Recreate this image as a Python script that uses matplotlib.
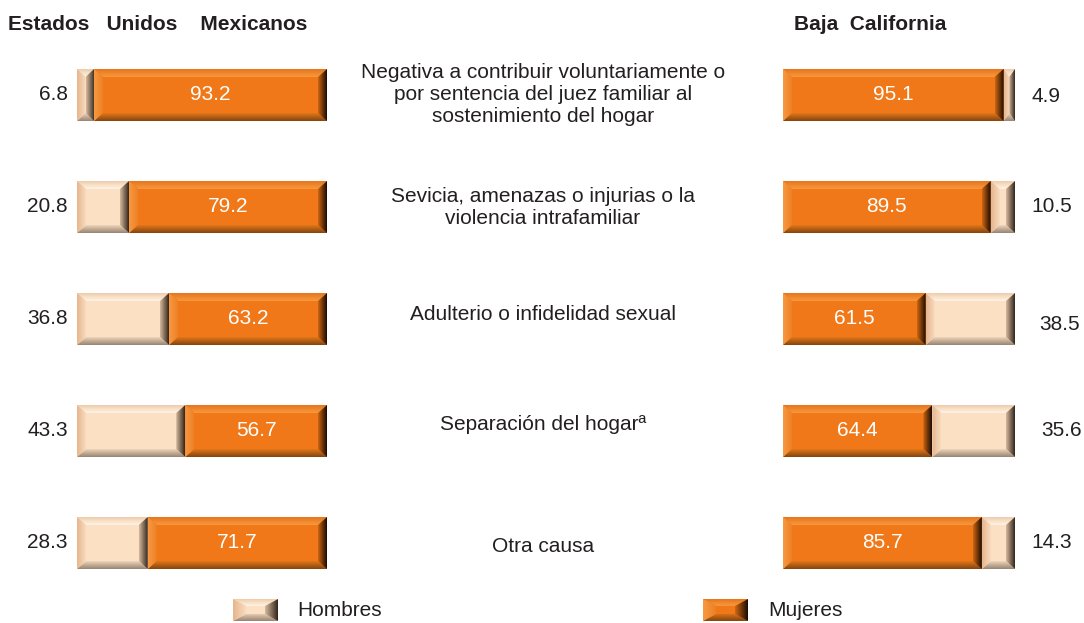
import numpy as np
import matplotlib
matplotlib.use("Agg")
import matplotlib.pyplot as plt
from matplotlib.patches import Polygon
from matplotlib.transforms import offset_copy
from matplotlib.colors import to_rgb

plt.rcParams['font.family'] = ['Liberation Sans', 'DejaVu Sans']

# ---------------- data ----------------
categories = [
    "Negativa a contribuir voluntariamente o\npor sentencia del juez familiar al\nsostenimiento del hogar",
    "Sevicia, amenazas o injurias o la\nviolencia intrafamiliar",
    "Adulterio o infidelidad sexual",
    "Separación del hogarª",
    "Otra causa",
]
nacional_hombres = [6.8, 20.8, 36.8, 43.3, 28.3]
nacional_mujeres = [93.2, 79.2, 63.2, 56.7, 71.7]
bc_mujeres = [95.1, 89.5, 61.5, 64.4, 85.7]
bc_hombres = [4.9, 10.5, 38.5, 35.6, 14.3]
title_left = "Estados   Unidos    Mexicanos"
title_right = "Baja  California"
legend_labels = ["Hombres", "Mujeres"]

# ---------------- layout nudges (pixels) ----------------
cat_dy_px = [0, 1, -5, -6, 3]
right_lab_dx_px = [0, 0, 8, 10, 0]
right_lab_dy_px = [-2, 0, -6, 0, 0]

# ---------------- style ----------------
W, H = 1084, 623
TXT = "#231f20"
PAL_M = dict(face="#F07818", top_o="#E6761C", top_i="#F7983E",
             bot_o="#844510", bot_i="#E27618",
             lef_o="#F69A44", lef_i="#EE8024",
             rig_o="#1C0C04", rig_i="#CC6612")
PAL_H = dict(face="#FCE0C4", top_o="#F0CCAA", top_i="#FEF3E6",
             bot_o="#988474", bot_i="#EED4B8",
             lef_o="#E6B68E", lef_i="#F8DABE",
             rig_o="#34261C", rig_i="#D4B89C")

fig = plt.figure(figsize=(W / 100, H / 100), dpi=100)


def grad_facet(ax, poly_pts, c_out, c_in, direction):
    pts = np.array(poly_pts)
    xmin, xmax = pts[:, 0].min(), pts[:, 0].max()
    ymin, ymax = pts[:, 1].min(), pts[:, 1].max()
    n = 32
    t = np.linspace(0, 1, n)
    co, ci = np.array(to_rgb(c_out)), np.array(to_rgb(c_in))
    g = co[None, :] * (1 - t[:, None]) + ci[None, :] * t[:, None]
    if direction == "top":
        img, origin = g[:, None, :], "upper"
    elif direction == "bottom":
        img, origin = g[:, None, :], "lower"
    elif direction == "left":
        img, origin = g[None, :, :], "upper"
    else:
        img, origin = g[::-1][None, :, :], "upper"
    patch = Polygon(pts, closed=True, facecolor="none", edgecolor="none")
    ax.add_patch(patch)
    im = ax.imshow(img, extent=(xmin, xmax, ymin, ymax), origin=origin,
                   aspect="auto", interpolation="bilinear", zorder=2)
    im.set_clip_path(patch)


def bevel_bar(ax, x0, x1, yc, h, bx, by, pal):
    y0, y1 = yc - h / 2, yc + h / 2
    bx = min(bx, (x1 - x0) / 2)
    ax.add_patch(Polygon([(x0, y0), (x1, y0), (x1, y1), (x0, y1)],
                         closed=True, facecolor=pal["face"], edgecolor="none", zorder=1))
    grad_facet(ax, [(x0, y1), (x1, y1), (x1 - bx, y1 - by), (x0 + bx, y1 - by)],
               pal["top_o"], pal["top_i"], "top")
    grad_facet(ax, [(x0, y0), (x1, y0), (x1 - bx, y0 + by), (x0 + bx, y0 + by)],
               pal["bot_o"], pal["bot_i"], "bottom")
    grad_facet(ax, [(x0, y0), (x0 + bx, y0 + by), (x0 + bx, y1 - by), (x0, y1)],
               pal["lef_o"], pal["lef_i"], "left")
    grad_facet(ax, [(x1, y0), (x1 - bx, y0 + by), (x1 - bx, y1 - by), (x1, y1)],
               pal["rig_o"], pal["rig_i"], "right")


def make_axes(x_px, w_px):
    top_px, bot_px = 39, 599
    ax = fig.add_axes([x_px / W, 1 - bot_px / H, w_px / W, (bot_px - top_px) / H])
    ax.set_xlim(0, 100)
    ax.set_ylim(0, 5)
    ax.axis("off")
    return ax


row_px = 112.0
bar_h = 52 / row_px
bevel_x_px, bevel_y_px = 9, 8

axL = make_axes(77, 250)
axR = make_axes(783, 232)
n = len(categories)
yc = [n - 0.5 - i for i in range(n)]

bxL = bevel_x_px * 100 / 250
bxR = bevel_x_px * 100 / 232
by = bevel_y_px / row_px

lab_kw = dict(fontsize=15, color=TXT, va="center")
left_off = offset_copy(axL.transData, fig=fig, x=-9, y=0, units="dots")

for i in range(n):
    h_val, m_val = nacional_hombres[i], nacional_mujeres[i]
    bevel_bar(axL, 0, h_val, yc[i], bar_h, bxL, by, PAL_H)
    bevel_bar(axL, h_val, h_val + m_val, yc[i], bar_h, bxL, by, PAL_M)
    axL.text(0, yc[i], f"{h_val:.1f}", ha="right", transform=left_off, **lab_kw)
    axL.text(h_val + m_val / 2, yc[i], f"{m_val:.1f}", ha="center",
             fontsize=15, color="white", va="center")

    m2, h2 = bc_mujeres[i], bc_hombres[i]
    bevel_bar(axR, 0, m2, yc[i], bar_h, bxR, by, PAL_M)
    bevel_bar(axR, m2, m2 + h2, yc[i], bar_h, bxR, by, PAL_H)
    r_off = offset_copy(axR.transData, fig=fig, x=16 + right_lab_dx_px[i],
                        y=right_lab_dy_px[i], units="dots")
    axR.text(m2 + h2, yc[i], f"{h2:.1f}", ha="left", transform=r_off, **lab_kw)
    axR.text(m2 / 2, yc[i], f"{m2:.1f}", ha="center",
             fontsize=15, color="white", va="center")

    y_fig = 1 - (95 + i * row_px + cat_dy_px[i]) / H
    fig.text(543 / W, y_fig, categories[i], ha="center", va="center",
             fontsize=15, color=TXT, linespacing=1.2)

# titles
fig.text(8 / W, 1 - 25 / H, title_left, ha="left", va="center",
         fontsize=15, fontweight="bold", color=TXT)
fig.text(794 / W, 1 - 25 / H, title_right, ha="left", va="center",
         fontsize=15, fontweight="bold", color=TXT)

# legend
for (sx, tx, lab, pal) in [(233, 297, legend_labels[0], PAL_H),
                           (703, 768, legend_labels[1], PAL_M)]:
    lax = fig.add_axes([sx / W, 1 - 621 / H, 45 / W, 22 / H])
    lax.set_xlim(0, 1)
    lax.set_ylim(0, 1)
    lax.axis("off")
    bevel_bar(lax, 0, 1, 0.5, 1, 13 / 45, 7 / 22, pal)
    fig.text(tx / W, 1 - 611 / H, lab, ha="left", va="center", fontsize=15, color=TXT)

fig.savefig("out.png", dpi=100)
